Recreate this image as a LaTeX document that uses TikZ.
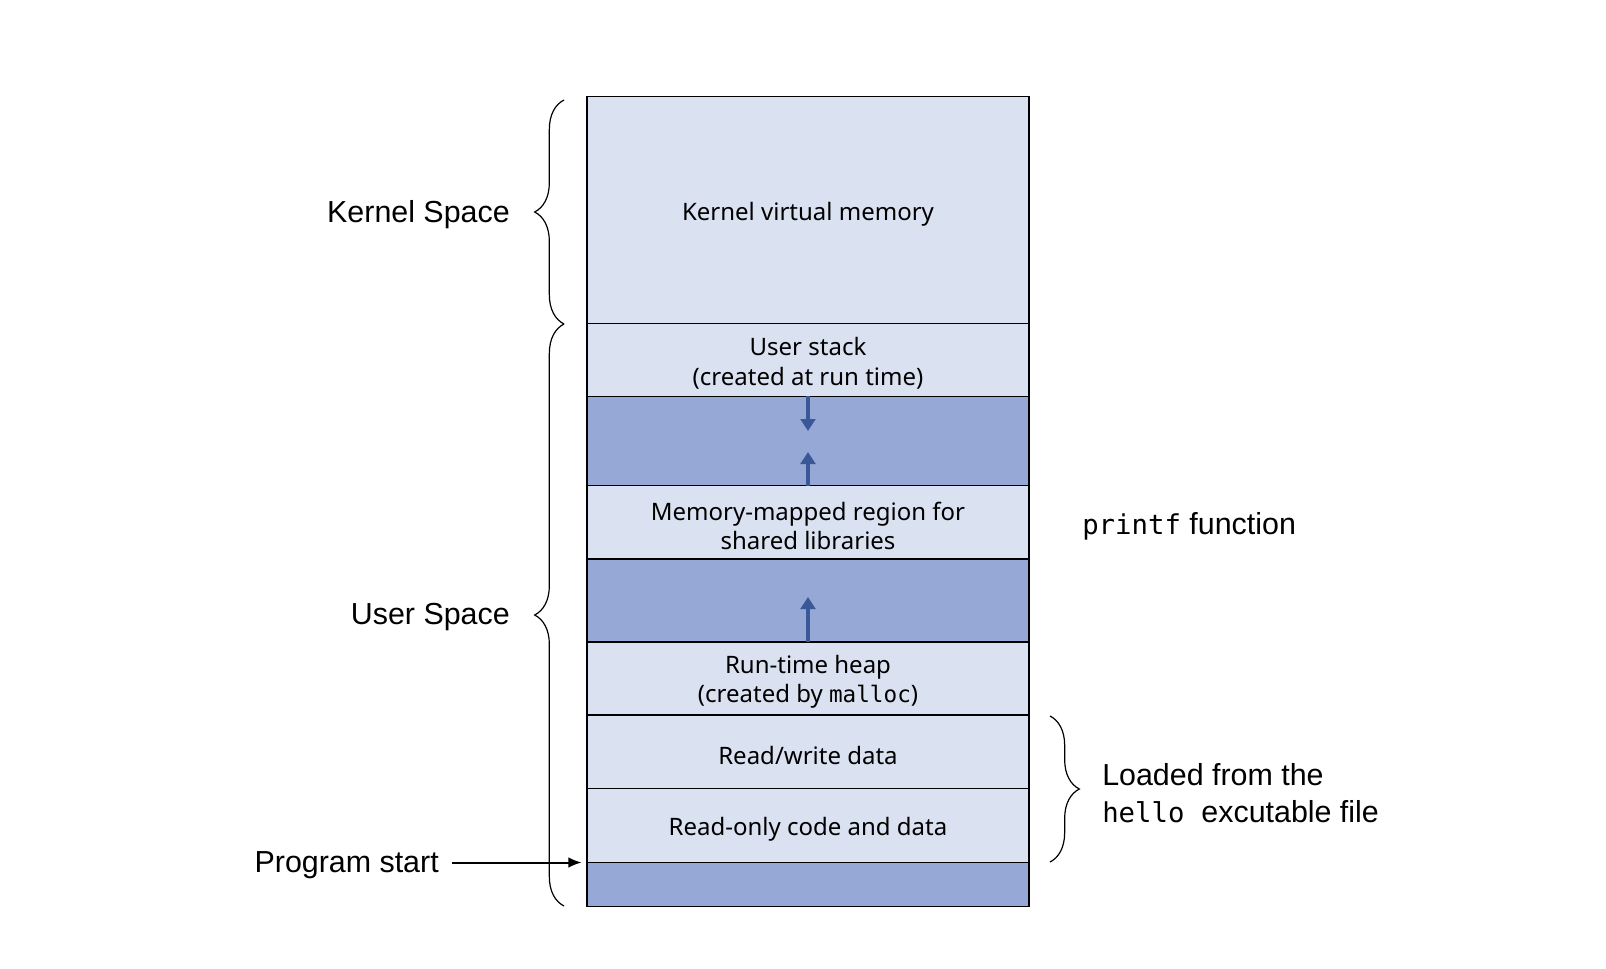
\documentclass[tikz,border=0pt]{standalone}
\usepackage{fontspec}
\setmainfont{Liberation Sans}
\newfontfamily\boxfont{Noto Sans}
\setmonofont{DejaVu Sans Mono}
\usetikzlibrary{decorations.pathreplacing,arrows.meta}
\definecolor{lightrow}{HTML}{DAE1F0}
\definecolor{darkrow}{HTML}{95A8D6}
\definecolor{arrowblue}{HTML}{3A5898}
\begin{document}
\begin{tikzpicture}[x=0.75pt,y=-0.75pt,
  row/.style={draw=black, line width=1.2pt, fill=lightrow, minimum width=331.5pt,
    inner sep=0pt, outer sep=0pt, anchor=north},
  gaprow/.style={row, fill=darkrow},
  rowtext/.style={inner sep=0pt, align=center, font=\boxfont\fontsize{18}{22}\selectfont},
  growarrow/.style={draw=arrowblue, line width=3pt, -{Triangle[width=11pt,length=9pt]}},
  bracel/.style={decorate, decoration={brace, amplitude=22pt}, line width=0.9pt},
  label/.style={font=\fontsize{22.8}{28}\selectfont, inner sep=0pt, align=left},
  pointer/.style={line width=1.5pt, -{Latex[length=10pt,width=8pt]}}]
\useasboundingbox (0,0) rectangle (1606,968);
\node[row, minimum height=170.5pt] (kern) at (808,96.3) {};
\node[row, minimum height=54.6pt] (stack) at (kern.south) {};
\node[gaprow, minimum height=66.8pt] (gapa) at (stack.south) {};
\node[row, minimum height=55.3pt] (mmap) at (gapa.south) {};
\node[gaprow, minimum height=62.25pt] (gapb) at (mmap.south) {};
\node[row, minimum height=54.5pt] (heap) at (gapb.south) {};
\node[row, minimum height=55.3pt] (rw) at (heap.south) {};
\node[row, minimum height=55.4pt] (ro) at (rw.south) {};
\node[gaprow, minimum height=33pt] (bot) at (ro.south) {};
% row texts
\node[rowtext] (kernt) at ([yshift=-3pt]kern.center) {Kernel virtual memory};
\node[rowtext] (stackt) at ([yshift=-2.5pt]stack.center) {User stack\\(created at run time)};
\node[rowtext] (mmapt) at ([yshift=-2.5pt]mmap.center) {Memory-mapped region for\\shared libraries};
\node[rowtext] (heapt) at ([yshift=-2.5pt]heap.center) {Run-time heap\\(created by \texttt{\fontsize{17}{22}\selectfont malloc})};
\node[rowtext] (rwt) at ([yshift=-2.5pt]rw.center) {Read/write data};
\node[rowtext] (rot) at ([yshift=-2.5pt]ro.center) {Read-only code and data};
% growth arrows
\coordinate (downtip) at (808,431);
\coordinate (uptipa) at (808,452);
\coordinate (uptipb) at (808,597);
\draw[growarrow] (gapa.north) -- (downtip);
\draw[growarrow] (gapa.south) -- (uptipa);
\draw[growarrow] (gapb.south) -- (uptipb);
% braces
\coordinate (kbt) at (564,100);
\coordinate (kbb) at (564,324);
\coordinate (ubb) at (564,906);
\draw[bracel] (kbb) -- (kbt);
\draw[bracel] (ubb) -- (kbb);
\coordinate (rbt) at (1050,716);
\coordinate (rbb) at (1050,862);
\draw[bracel] (rbt) -- (rbb);
% labels
\node[label, anchor=east] (kspace) at (510,215) {Kernel Space};
\node[label, anchor=east] (uspace) at (510,617) {User Space};
\node[label, anchor=east] (pstart) at (439,865) {Program start};
\coordinate (pstail) at ([xshift=10pt]pstart.east);
\draw[pointer] (pstail |- ro.south west) -- ([xshift=-4pt]ro.south west);
\node[label, anchor=west] (printf) at (1082,526) {\texttt{\fontsize{20.5}{28}\selectfont printf} function};
\node[label, anchor=west] (loaded) at (1102,793) {Loaded from the\\\texttt{\fontsize{20.5}{28}\selectfont hello}~ excutable file};
\end{tikzpicture}
\end{document}
